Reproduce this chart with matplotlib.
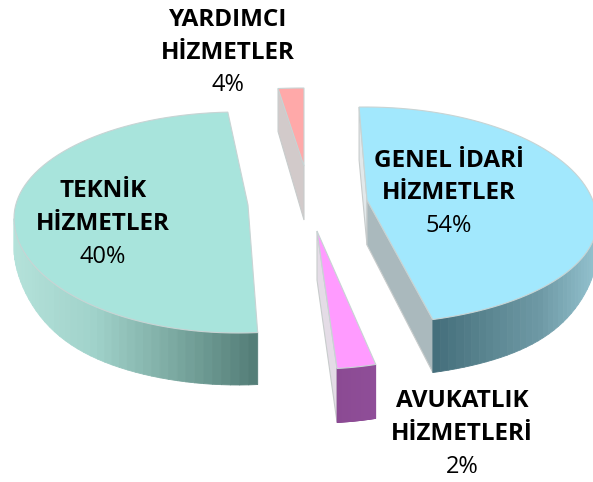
import numpy as np
import matplotlib
matplotlib.use('Agg')
import matplotlib.pyplot as plt
from matplotlib.colors import to_rgb
from matplotlib.collections import PolyCollection

## data
categories = [('GENEL İDARİ', 'HİZMETLER'), ('YARDIMCI', 'HİZMETLER'),
              ('TEKNİK', 'HİZMETLER'), ('AVUKATLIK', 'HİZMETLERİ')]
shares = [54, 4, 40, 2]

## look of each slice, in pixels of the picture
## the view factor squeezes or stretches the sweep, the original has strong perspective
centres = [(365, 222), (304, 166), (238, 218), (317, 231)]
apexes = [(367, 200), (304, 166), (248, 205), (317, 231)]
radii = [(232, 115, 102), (230, 78, 78), (224, 106, 115), (230, 138, 138)]  # rx, ry up, ry down
starts = [-73, 90, 92.6, -85]
views = [0.846, 0.45, 1.267, 1.36]
rim_depth = [53, 43, 52, 54]
apex_depth = [45, 54, 52, 49]
top_colours = ['#a2e8fd', '#ffa9a9', '#a8e4dc', '#ff9bff']
side_colours = ['#aab9bd', '#d2caca', '#d8dcdc', '#e4dce6']
front_stops = [['#436d7a', '#5a8590', '#6f9aa6', '#93c2cf'], None,
               ['#b4e2da', '#a0d2ca', '#7aa8a0', '#527c76'], ['#8b4a93', '#8f4e98']]
label_pos = [(449, 161, 193, 226), (228, 20, 53, 85), (103, 191, 224, 257), (462, 401, 434, 467)]

fig = plt.figure(figsize=(5.93, 4.82), dpi=100)
ax = fig.add_axes([0, 0, 1, 1])
ax.set_xlim(0, 593)
ax.set_ylim(482, 0)
ax.axis('off')


def rim(i, n=80):
    a = np.radians(np.linspace(starts[i], starts[i] + shares[i] * 3.6 * views[i], n))
    x = centres[i][0] + radii[i][0] * np.cos(a)
    s = np.sin(a)
    y = centres[i][1] - np.where(s > 0, radii[i][1], radii[i][2]) * s
    return np.column_stack([x, y]), a


def side(i, p, colour, z):
    ax_, ay = apexes[i]
    pts = [(ax_, ay), p, (p[0], p[1] + rim_depth[i]), (ax_, ay + apex_depth[i])]
    ax.fill(*zip(*pts), color=colour, lw=0.8, ec='#c8cccc', zorder=z)


for i in range(len(shares)):
    pts, ang = rim(i)
    # cut faces
    if i == 0:
        side(i, pts[-1], '#e2e8ea', 2)
        side(i, pts[0], side_colours[i], 3)
    if i == 1:
        side(i, pts[-1], side_colours[i], 3)
    if i == 3:
        side(i, pts[0], side_colours[i], 3)
    # front wall, drawn in small strips so it can shade along the rim
    if front_stops[i] is not None:
        keep = np.sin(ang) < 0.03
        f = pts[keep]
        # wall looks thinner towards the far sides of the pie
        d = rim_depth[i] * (1 - 0.4 * np.cos(ang[keep]) ** 8)
        stops = np.array([to_rgb(c) for c in front_stops[i]])
        t = (f[:, 0] - f[:, 0].min()) / (f[:, 0].max() - f[:, 0].min())
        quads, cols = [], []
        for k in range(len(f) - 1):
            quads.append([f[k], f[k + 1], f[k + 1] + [0, d[k + 1]], f[k] + [0, d[k]]])
            tm = (t[k] + t[k + 1]) / 2
            cols.append([np.interp(tm, np.linspace(0, 1, len(stops)), stops[:, c]) for c in range(3)])
        ax.add_collection(PolyCollection(quads, facecolors=cols, edgecolors=cols, linewidths=0.6, zorder=3))
    # top
    poly = np.vstack([apexes[i], pts])
    ax.fill(poly[:, 0], poly[:, 1], color=top_colours[i], lw=0.8, ec='#c8d4d4', zorder=4)

for i in range(len(shares)):
    x, y1, y2, y3 = label_pos[i]
    ax.text(x, y1, categories[i][0], family='Open Sans', weight='bold', fontsize=17.5, ha='center', va='center', zorder=6)
    ax.text(x, y2, categories[i][1], family='Open Sans', weight='bold', fontsize=17.5, ha='center', va='center', zorder=6)
    ax.text(x, y3, str(shares[i]) + '%', family='Open Sans', fontsize=17, ha='center', va='center', zorder=6)

plt.savefig('out.png', dpi=100)
